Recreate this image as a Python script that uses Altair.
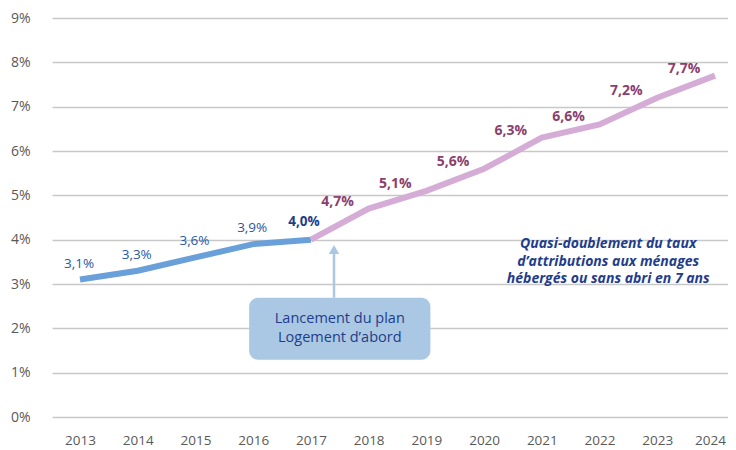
import altair as alt
import pandas as pd

years = [2013, 2014, 2015, 2016, 2017, 2018, 2019, 2020, 2021, 2022, 2023, 2024]
values = [3.1, 3.3, 3.6, 3.9, 4.0, 4.7, 5.1, 5.6, 6.3, 6.6, 7.2, 7.7]
launch_year = 2017
y_ticks = [0, 1, 2, 3, 4, 5, 6, 7, 8, 9]

box_text = ["Lancement du plan", "Logement d\u2019abord"]
note_text = ["Quasi-doublement du taux", "d\u2019attributions aux ménages", "hébergés ou sans abri en 7 ans"]

FONT = "Open Sans"
BLUE_LINE = "#69a0d9"
PINK_LINE = "#d5acd6"
BLUE_TXT = "#2c56a4"
NAVY_TXT = "#1f3d8c"
PLUM_TXT = "#8b3f6e"
BOX_FILL = "#aac8e3"

def fr(v):
    return f"{v:.1f}".replace(".", ",") + "%"

df = pd.DataFrame({"year": years, "value": values})
df["label"] = [fr(v) for v in values]
blue = df[df.year <= launch_year]
pink = df[df.year >= launch_year]

xscale = alt.Scale(domain=[2012.515, 2024.225], nice=False, zero=False)
yscale = alt.Scale(domain=[0, 9], nice=False)

base_x = alt.X("year:Q", scale=xscale,
               axis=alt.Axis(values=years, format="d", title=None, grid=False, ticks=False,
                             domain=False, labelPadding=16, labelFontSize=13.5,
                             labelColor="#595959", labelFont=FONT,
                             labelOffset={"condition": {"test": "datum.value == 2024", "value": -5},
                                          "value": 0}))
base_y = alt.Y("value:Q", scale=yscale,
               axis=alt.Axis(values=y_ticks, labelExpr="datum.value + '%'", title=None,
                             ticks=False, domain=False, labelPadding=22, labelFontSize=14,
                             labelColor="#595959", labelFont=FONT, grid=True,
                             gridColor="#c8c8c8", gridWidth=1.5))

line_blue = alt.Chart(blue).mark_line(color=BLUE_LINE, strokeWidth=6, strokeCap="butt").encode(
    x=base_x, y=base_y)
line_pink = alt.Chart(pink).mark_line(color=PINK_LINE, strokeWidth=6, strokeCap="butt").encode(
    x="year:Q", y="value:Q")

lab_blue = alt.Chart(df[df.year < launch_year]).mark_text(
    font=FONT, fontSize=13.5, color=BLUE_TXT, dx=-1, dy=-16).encode(
    x="year:Q", y="value:Q", text="label:N")
lab_launch = alt.Chart(df[df.year == launch_year]).mark_text(
    font=FONT, fontSize=13.5, fontWeight="bold", color=NAVY_TXT, dx=-7, dy=-18).encode(
    x="year:Q", y="value:Q", text="label:N")
lab_pink = alt.Chart(df[df.year > launch_year]).mark_text(
    font=FONT, fontSize=14, fontWeight="bold", color=PLUM_TXT, dx=-31, dy=-7).encode(
    x="year:Q", y="value:Q", text="label:N")

# annotation box and arrow (data coordinates)
box_df = pd.DataFrame({"x": [2015.93], "x2": [2019.07], "y": [1.29], "y2": [2.69]})
box = alt.Chart(box_df).mark_rect(color=BOX_FILL, cornerRadius=9).encode(
    x="x:Q", x2="x2:Q", y="y:Q", y2="y2:Q")
box_lbl = alt.Chart(pd.DataFrame({"x": [2017.5], "y": [2.2], "t": [box_text]})).mark_text(
    font=FONT, fontSize=14.5, color=NAVY_TXT, lineHeight=19, baseline="middle").encode(
    x="x:Q", y="y:Q", text="t")
arrow_df = pd.DataFrame({"x": [2017.4], "y": [2.69], "y2": [3.72]})
arrow = alt.Chart(arrow_df).mark_rule(color=BOX_FILL, strokeWidth=2.5).encode(
    x="x:Q", y="y:Q", y2="y2:Q")
head = alt.Chart(pd.DataFrame({"x": [2017.4], "y": [3.78]})).mark_point(
    shape="triangle-up", filled=True, color=BOX_FILL, size=110, opacity=1).encode(
    x="x:Q", y="y:Q")

note = alt.Chart(pd.DataFrame({"x": [2022.15], "y": [4.05], "t": [note_text]})).mark_text(
    font=FONT, fontSize=14, fontWeight="bold", fontStyle="italic", color=NAVY_TXT,
    lineHeight=17.5, baseline="top").encode(x="x:Q", y="y:Q", text="t")

chart = alt.layer(line_blue, line_pink, lab_blue, lab_launch, lab_pink,
                  box, box_lbl, arrow, head, note).properties(
    width=676, height=399,
    autosize=alt.AutoSizeParams(type="none"),
    padding={"left": 44, "top": 10, "right": 0, "bottom": 30},
).configure_view(stroke=None)

chart.save("out.html", embed_options={"renderer": "svg", "actions": False})
